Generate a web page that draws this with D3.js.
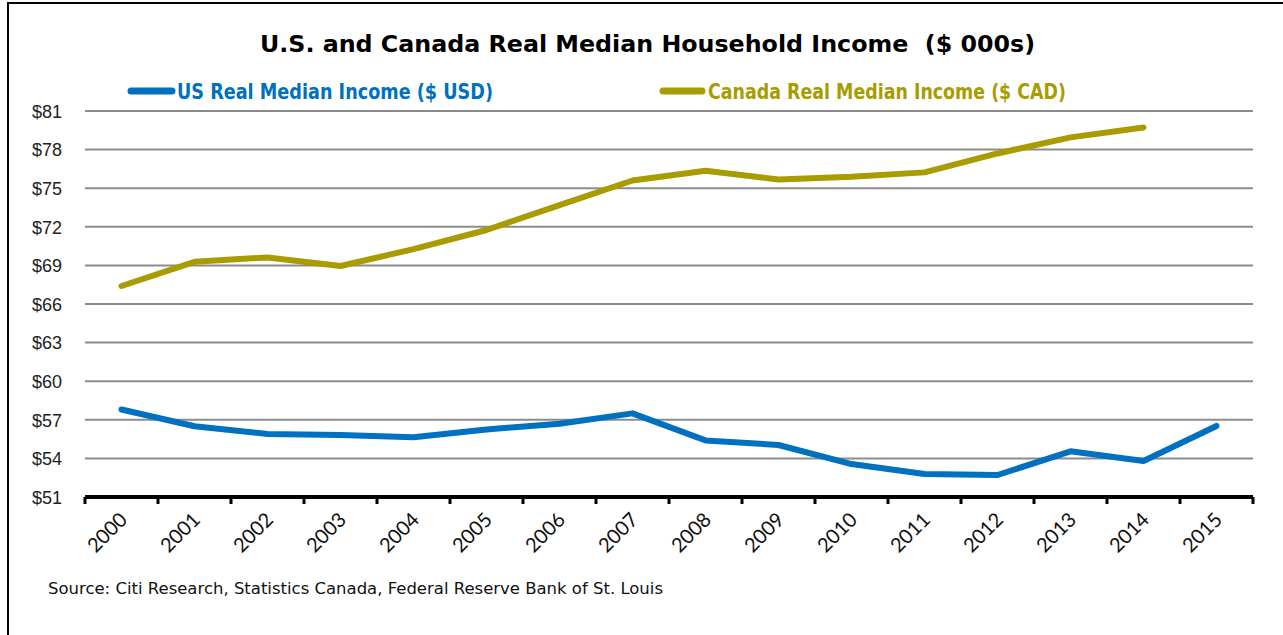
<!DOCTYPE html>
<html><head><meta charset="utf-8">
<script src="https://cdn.jsdelivr.net/npm/d3@7"></script>
<style>
body{margin:0;background:#fff;}
svg{display:block;}
</style></head>
<body>
<svg id="c" width="1283" height="635"></svg>
<script>
const years = ["2000","2001","2002","2003","2004","2005","2006","2007","2008","2009","2010","2011","2012","2013","2014","2015"];
const usIncome = [57.8,56.5,55.9,55.82,55.65,56.25,56.7,57.5,55.4,55.04,53.56,52.78,52.71,54.55,53.8,56.52];
const canadaIncome = [67.4,69.28,69.62,68.95,70.27,71.75,73.69,75.6,76.35,75.68,75.89,76.23,77.7,78.95,79.72,null];
const yTicks = [51,54,57,60,63,66,69,72,75,78,81];
const titleText = "U.S. and Canada Real Median Household Income  ($ 000s)";
const seriesNames = ["US Real Median Income ($ USD)","Canada Real Median Income ($ CAD)"];
const sourceText = "Source: Citi Research, Statistics Canada, Federal Reserve Bank of St. Louis";

(function(){
const svg = d3.select("#c");
const pL=85, pR=1253, pT=111, pB=497;
const usColor="#0070C0", caColor="#A89C00";

svg.append("rect").attr("x",8).attr("y",3).attr("width",1300).attr("height",700)
  .attr("fill","none").attr("stroke","#000").attr("stroke-width",2);

const x = d3.scaleBand().domain(years).range([pL,pR]).padding(0);
const y = d3.scaleLinear().domain([51,81]).range([pB,pT]);

svg.append("g").selectAll("line").data(yTicks.filter(d=>d>51)).join("line")
  .attr("x1",pL).attr("x2",pR).attr("y1",d=>y(d)).attr("y2",d=>y(d))
  .attr("stroke","#8c8c8c").attr("stroke-width",2);

const yAxis = d3.axisLeft(y).tickValues(yTicks).tickFormat(d=>"$"+d).tickSize(0).tickPadding(0);
const gy = svg.append("g").attr("transform",`translate(${pL-23},0)`).call(yAxis);
gy.select(".domain").remove();
gy.selectAll("text").attr("font-family","Liberation Sans, sans-serif")
  .attr("font-size",18).attr("fill","#222").attr("dy","0.35em");

const gx = svg.append("g").attr("transform",`translate(0,${pB})`);
gx.append("line").attr("x1",pL).attr("x2",pR).attr("stroke","#000").attr("stroke-width",4);
const bounds = years.map(d=>x(d)).concat([pR]);
gx.selectAll("line.tk").data(bounds).join("line").attr("class","tk")
  .attr("x1",d=>d).attr("x2",d=>d).attr("y1",0).attr("y2",7).attr("stroke","#000").attr("stroke-width",3);
gx.selectAll("text").data(years).join("text")
  .attr("transform",d=>`translate(${x(d)+x.bandwidth()/2+2},${19}) rotate(-45)`)
  .attr("text-anchor","end").attr("dy","0.35em")
  .attr("font-family","Lato, Liberation Sans, sans-serif").attr("font-size",20).attr("fill","#111")
  .text(d=>d);

const line = d3.line().defined(d=>d.v!=null).x(d=>x(d.y)+x.bandwidth()/2).y(d=>y(d.v));
[[usIncome,usColor],[canadaIncome,caColor]].forEach(([arr,col])=>{
  svg.append("path").datum(years.map((yr,i)=>({y:yr,v:arr[i]})))
    .attr("d",line).attr("fill","none").attr("stroke",col).attr("stroke-width",6)
    .attr("stroke-linecap","round").attr("stroke-linejoin","round");
});

svg.append("text").attr("x",260).attr("y",52)
  .attr("font-family","DejaVu Sans, sans-serif").attr("font-weight","bold").attr("font-size",22.5)
  .attr("fill","#000").style("white-space","pre")
  .attr("textLength",775).attr("lengthAdjust","spacingAndGlyphs").text(titleText);

const leg = [{x1:131,x2:172,tx:177,w:316,col:usColor,t:seriesNames[0]},{x1:663,x2:702,tx:708,w:358,col:caColor,t:seriesNames[1]}];
leg.forEach(l=>{
  svg.append("line").attr("x1",l.x1).attr("x2",l.x2).attr("y1",91).attr("y2",91)
    .attr("stroke",l.col).attr("stroke-width",7).attr("stroke-linecap","round");
  svg.append("text").attr("x",l.tx).attr("y",99).attr("font-family","DejaVu Sans, sans-serif")
    .attr("font-weight","bold").attr("font-size",21).attr("fill",l.col)
    .attr("textLength",l.w).attr("lengthAdjust","spacingAndGlyphs").text(l.t);
});

svg.append("text").attr("x",48).attr("y",594).attr("font-family","DejaVu Sans, sans-serif")
  .attr("font-size",15.5).attr("fill","#111")
  .attr("textLength",615).attr("lengthAdjust","spacingAndGlyphs").text(sourceText);
})();
</script>
</body></html>
